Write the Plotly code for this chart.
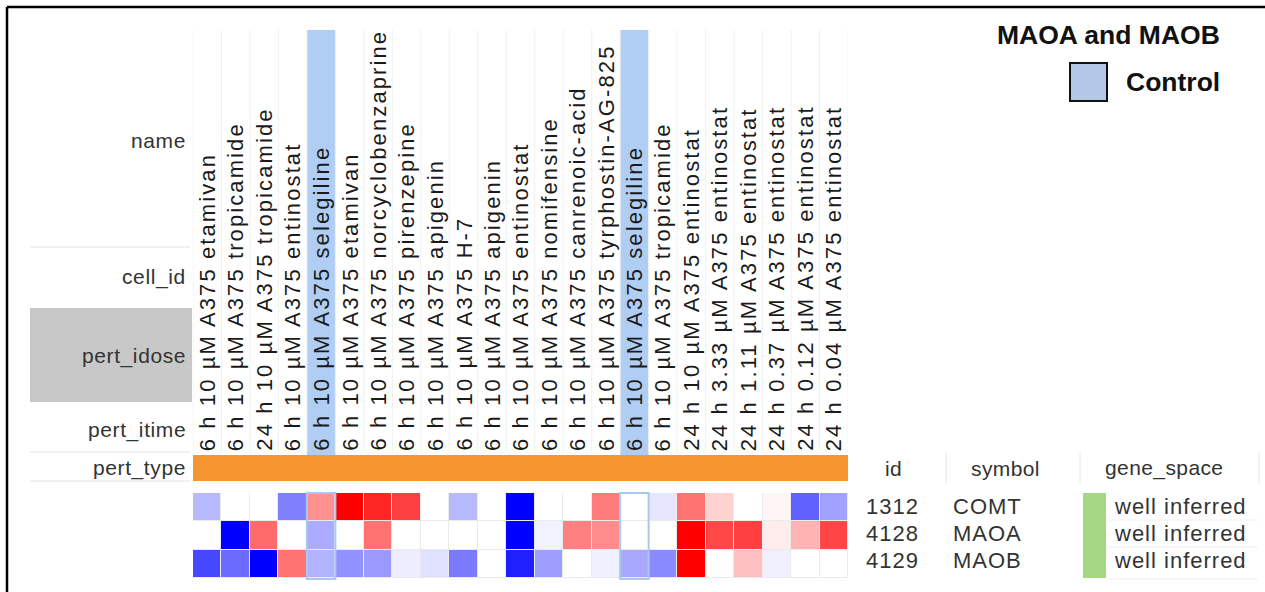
import plotly.graph_objects as go

W, H = 1265, 592

# ---------------- data ----------------
names = ["etamivan", "tropicamide", "tropicamide", "entinostat", "selegiline", "etamivan",
         "norcyclobenzaprine", "pirenzepine", "apigenin", "H-7", "apigenin", "entinostat",
         "nomifensine", "canrenoic-acid", "tyrphostin-AG-825", "selegiline", "tropicamide",
         "entinostat", "entinostat", "entinostat", "entinostat", "entinostat", "entinostat"]
cell_ids = ["A375"] * 23
pert_idose = ["10 µM"] * 18 + ["3.33 µM", "1.11 µM", "0.37 µM", "0.12 µM", "0.04 µM"]
pert_itime = ["6 h", "6 h", "24 h", "6 h", "6 h", "6 h", "6 h", "6 h", "6 h", "6 h", "6 h", "6 h",
              "6 h", "6 h", "6 h", "6 h", "6 h", "24 h", "24 h", "24 h", "24 h", "24 h", "24 h"]
is_control = [False, False, False, False, True, False, False, False, False, False, False, False,
              False, False, False, True, False, False, False, False, False, False, False]

gene_ids = ["1312", "4128", "4129"]
gene_symbols = ["COMT", "MAOA", "MAOB"]
gene_space = ["well inferred", "well inferred", "well inferred"]

comt = [-0.28, 0.0, 0.0, -0.5, 0.43, 1.0, 0.85, 0.75, 0.0, -0.28, 0.0, -1.0,
        0.0, 0.0, 0.52, 0.0, -0.1, 0.55, 0.18, 0.0, 0.04, -0.62, -0.37]
maoa = [0.0, -1.0, 0.58, 0.0, -0.33, 0.0, 0.55, 0.0, 0.0, 0.0, 0.0, -1.0,
        -0.05, 0.5, 0.45, 0.0, 0.0, 1.0, 0.72, 0.75, 0.07, 0.3, 0.73]
maob = [-0.72, -0.58, -1.0, 0.55, -0.3, -0.43, -0.4, -0.07, -0.12, -0.52, 0.0, -0.88,
        -0.38, 0.0, -0.06, -0.34, -0.46, 1.0, 0.0, 0.25, -0.06, 0.0, 0.0]

row_labels = ["name", "cell_id", "pert_idose", "pert_itime", "pert_type"]
legend_title = "MAOA and MAOB"
legend_item = "Control"

# ---------------- helpers ----------------
def px(p):
    return p / W


def py(p):
    return 1 - p / H


def spaced(t, s):
    return f'<span style="letter-spacing:{s}px">{t}</span>'


FONT = "Liberation Sans, Arial, sans-serif"
ncol = len(names)

fig = go.Figure()
fig.add_trace(go.Heatmap(
    z=[comt, maoa, maob],
    x=list(range(ncol)),
    y=[0, 1, 2],
    zmin=-1, zmax=1,
    colorscale=[[0, "#0000ff"], [0.5, "#ffffff"], [1, "#ff0000"]],
    showscale=False, xgap=1, ygap=1, hoverinfo="skip",
))

shapes = []
annotations = []

# control column highlights (header)
for i, c in enumerate(is_control):
    if c:
        shapes.append(dict(type="rect", xref="x", yref="paper", x0=i - 0.5, x1=i + 0.5,
                           y0=py(455), y1=py(30), fillcolor="#b0cdf3", line=dict(width=0),
                           layer="below"))
        shapes.append(dict(type="rect", xref="x", yref="paper", x0=i - 0.5, x1=i + 0.5,
                           y0=py(579), y1=py(493), fillcolor="rgba(0,0,0,0)",
                           line=dict(color="#a9c8f0", width=2)))

# faint column separators in header
for k in range(ncol + 1):
    shapes.append(dict(type="line", xref="x", yref="paper", x0=k - 0.5, x1=k - 0.5,
                       y0=py(452), y1=py(30), line=dict(color="#f0f0f0", width=1), layer="below"))

# pert_idose grey label box
shapes.append(dict(type="rect", xref="paper", yref="paper", x0=px(30), x1=px(192),
                   y0=py(402), y1=py(308), fillcolor="#c8c8c8", line=dict(width=0), layer="below"))
# separator lines on the label column
for yy in (247, 452, 481):
    shapes.append(dict(type="line", xref="paper", yref="paper", x0=px(30), x1=px(190),
                       y0=py(yy), y1=py(yy), line=dict(color="#e2e2e2", width=1)))

# pert_type orange bar
shapes.append(dict(type="rect", xref="x", yref="paper", x0=-0.6, x1=ncol - 0.5,
                   y0=py(481), y1=py(455), fillcolor="#f79630", line=dict(width=0)))

# frame
shapes.append(dict(type="line", xref="paper", yref="paper", x0=px(7), x1=1, y0=py(7), y1=py(7),
                   line=dict(color="black", width=2.5)))
shapes.append(dict(type="line", xref="paper", yref="paper", x0=px(7), x1=px(7), y0=py(7), y1=0,
                   line=dict(color="black", width=2.5)))

# column header texts
for i in range(ncol):
    txt = f"{pert_itime[i]} {pert_idose[i]} {cell_ids[i]} {names[i]}"
    annotations.append(dict(
        x=i, y=py(453), xref="x", yref="paper", text=spaced(txt, 2.1),
        textangle=-90, xanchor="center", yanchor="bottom", showarrow=False,
        font=dict(family=FONT, size=22, color="#1a1a1a")))

# row labels
for lab, yy in zip(row_labels, [140, 277, 356, 430, 468]):
    annotations.append(dict(x=px(188), y=py(yy), xref="paper", yref="paper", text=spaced(lab, 0.6),
                            xanchor="right", yanchor="middle", showarrow=False,
                            font=dict(family=FONT, size=21, color="#333333")))

# right table header
for lab, xx in zip(["id", "symbol", "gene_space"], [893, 1005, 1164]):
    annotations.append(dict(x=px(xx), y=py(468), xref="paper", yref="paper", text=spaced(lab, 0.4),
                            xanchor="center", yanchor="middle", showarrow=False,
                            font=dict(family=FONT, size=21, color="#333333")))
for xx in (946, 1080, 1259):
    shapes.append(dict(type="line", xref="paper", yref="paper", x0=px(xx), x1=px(xx),
                       y0=py(483), y1=py(453), line=dict(color="#e4e4e4", width=1)))

# right table rows
shapes.append(dict(type="rect", xref="paper", yref="paper", x0=px(1083), x1=px(1106),
                   y0=py(578), y1=py(493), fillcolor="#a6d785", line=dict(width=0)))
for j, yy in enumerate([506, 533, 560]):
    for val, xx in ((gene_ids[j], 864), (gene_symbols[j], 951), (gene_space[j], 1112)):
        annotations.append(dict(x=px(xx), y=py(yy), xref="paper", yref="paper", text=spaced(val, 1.0),
                                xanchor="left", yanchor="middle", showarrow=False,
                                font=dict(family=FONT, size=22, color="#333333")))
for yy in (520, 547, 579):
    shapes.append(dict(type="line", xref="paper", yref="paper", x0=px(1108), x1=px(1258),
                       y0=py(yy), y1=py(yy), line=dict(color="#f0f0f0", width=1)))

# legend
annotations.append(dict(x=px(1222), y=py(35), xref="paper", yref="paper", text=f"<b>{legend_title}</b>",
                        xanchor="right", yanchor="middle", showarrow=False,
                        font=dict(family=FONT, size=26.5, color="#111111")))
shapes.append(dict(type="rect", xref="paper", yref="paper", x0=px(1070), x1=px(1107),
                   y0=py(101), y1=py(63), fillcolor="#b4c7e7", line=dict(color="#111111", width=2)))
annotations.append(dict(x=px(1222), y=py(82), xref="paper", yref="paper", text=f"<b>{legend_item}</b>",
                        xanchor="right", yanchor="middle", showarrow=False,
                        font=dict(family=FONT, size=26.5, color="#111111")))

fig.update_layout(
    width=W, height=H,
    margin=dict(l=0, r=0, t=0, b=0),
    paper_bgcolor="white", plot_bgcolor="#ebebeb",
    xaxis=dict(domain=[px(193), px(848)], range=[-0.5, ncol - 0.5], showticklabels=False,
               showgrid=False, zeroline=False, ticks=""),
    yaxis=dict(domain=[py(578), py(493)], range=[2.5, -0.5], showticklabels=False,
               showgrid=False, zeroline=False, ticks=""),
    shapes=shapes, annotations=annotations, showlegend=False,
)

fig.write_html(
    "out.html",
    config={"displayModeBar": False},
    post_script="document.body.style.margin='0';document.body.style.overflow='hidden';",
)
